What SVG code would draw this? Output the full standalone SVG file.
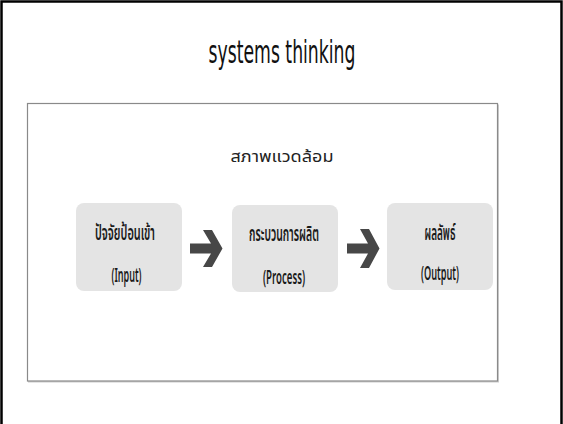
<svg xmlns="http://www.w3.org/2000/svg" width="563" height="424" viewBox="0 0 563 424">
<defs>
<style>
.frame{fill:#fff;stroke:#000;stroke-width:2.5}
.inner{fill:#fff;stroke:#8a8a8a;stroke-width:1.2}
.box{fill:#e4e4e4;stroke:none}
.t{font-family:"Noto Sans Thai","DejaVu Sans Condensed","DejaVu Sans","Liberation Sans",sans-serif;fill:#222;text-anchor:middle}
.n{font-weight:600;fill:#1a1a1a}
.th{font-size:22px}
.en{font-size:20px}
.title{font-family:"DejaVu Sans Condensed","Liberation Sans",sans-serif;fill:#111;text-anchor:middle;font-size:32px}
.arrow{fill:#474747}
</style>
</defs>
<rect x="0" y="0" width="563" height="424" fill="#fff"/>
<rect class="frame" x="1.5" y="1.5" width="560" height="440"/>
<text class="title" x="282" y="63" textLength="147" lengthAdjust="spacingAndGlyphs">systems thinking</text>
<g id="environment">
<rect x="28" y="104.5" width="471" height="278" fill="#999" opacity="0.5"/>
<rect class="inner" x="27.5" y="103.5" width="470" height="277.5"/>
<text class="t" x="282" y="162" style="font-size:16px" textLength="103" lengthAdjust="spacingAndGlyphs">สภาพแวดล้อม</text>
</g>
<g id="input">
<rect class="box" x="76" y="203" width="106" height="88" rx="8"/>
<text class="t n th" x="125" y="240" textLength="60" lengthAdjust="spacingAndGlyphs">ปัจจัยป้อนเข้า</text>
<text class="t n en" x="126.5" y="282" textLength="30" lengthAdjust="spacingAndGlyphs">(Input)</text>
</g>
<g id="process">
<rect class="box" x="232" y="205" width="106" height="87" rx="8"/>
<text class="t n th" x="284" y="241" textLength="70" lengthAdjust="spacingAndGlyphs">กระบวนการผลิต</text>
<text class="t n en" x="284" y="284" textLength="42" lengthAdjust="spacingAndGlyphs">(Process)</text>
</g>
<g id="output">
<rect class="box" x="387" y="203" width="106" height="87" rx="8"/>
<text class="t n th" x="440" y="240" textLength="31" lengthAdjust="spacingAndGlyphs">ผลลัพธ์</text>
<text class="t n en" x="440" y="280" textLength="38" lengthAdjust="spacingAndGlyphs">(Output)</text>
</g>
<g id="connectors">
<path class="arrow" d="M190,243.5 H211 L203,230 H212 L222.5,248.5 L212,267 H203 L211,253.5 H190 Z"/>
<path class="arrow" d="M347,243.5 H368 L360,229 H369 L379.5,248.5 L369,268 H360 L368,253.5 H347 Z"/>
</g>
</svg>
